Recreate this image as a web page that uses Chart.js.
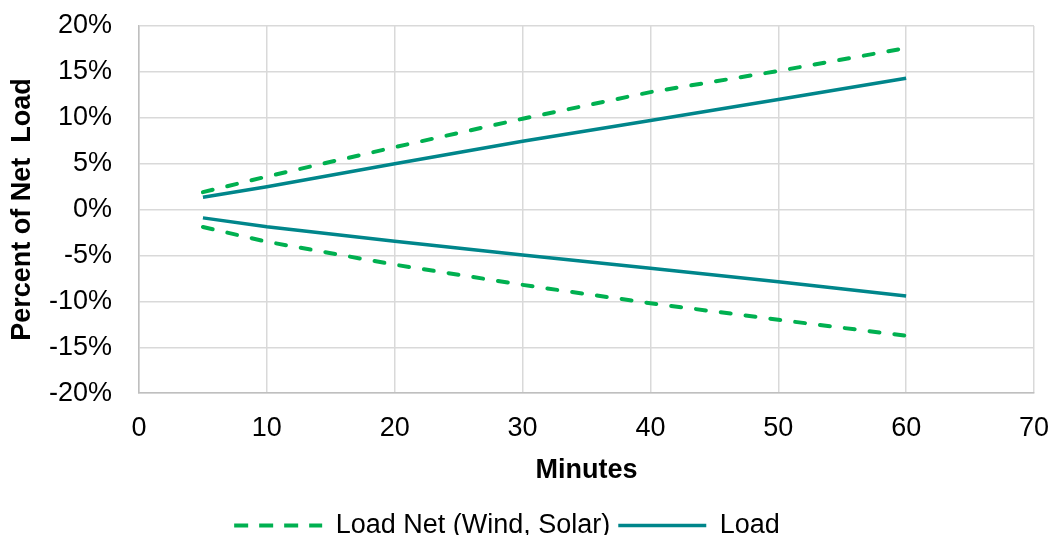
<!DOCTYPE html>
<html>
<head>
<meta charset="utf-8">
<script src="https://cdn.jsdelivr.net/npm/chart.js@4/dist/chart.umd.min.js"></script>
<style>
  html, body { margin: 0; padding: 0; background: #fff; }
</style>
</head>
<body>
<canvas id="grafico" width="1052" height="535"></canvas>
<script>
// minutos
const minutos = [5, 10, 20, 30, 40, 50, 60];

// faixas (em %) - limite superior e inferior
const loadNetSup = [1.9, 3.6, 6.8, 9.9, 12.8, 15.1, 17.6];
const loadNetInf = [-1.9, -3.5, -6.0, -8.2, -10.2, -12.0, -13.75];
const loadSup = [1.35, 2.5, 5.0, 7.45, 9.7, 12.0, 14.3];
const loadInf = [-0.9, -1.86, -3.46, -4.95, -6.4, -7.86, -9.4];

const nomesSeries = ['Load Net (Wind, Solar)', 'Load'];

const verde = '#00B050';
const teal = '#00868B';

const pontos = (vals) => vals.map((v, i) => ({ x: minutos[i], y: v }));

const fonte = { family: 'Liberation Sans, Arial, sans-serif', size: 27 };
const fonteNegrito = { family: 'Liberation Sans, Arial, sans-serif', size: 27, weight: 'bold' };

const tracejado = {
  borderColor: verde,
  borderWidth: 4,
  borderDash: [10, 15],
  borderCapStyle: 'round',
  pointRadius: 0,
  tension: 0,
  fill: false,
};
const solido = {
  borderColor: teal,
  borderWidth: 3.5,
  pointRadius: 0,
  tension: 0,
  fill: false,
};

new Chart(document.getElementById('grafico'), {
  type: 'line',
  data: {
    datasets: [
      { label: nomesSeries[0], data: pontos(loadNetSup), ...tracejado },
      { label: nomesSeries[1], data: pontos(loadSup), ...solido },
      { label: nomesSeries[0] + ' inf', data: pontos(loadNetInf), ...tracejado },
      { label: nomesSeries[1] + ' inf', data: pontos(loadInf), ...solido },
    ],
  },
  options: {
    responsive: false,
    animation: false,
    // margem esquerda negativa so p/ centralizar a legenda como no original
    layout: { padding: { left: -20, right: 18, top: 26, bottom: -14 } },
    plugins: {
      tooltip: { enabled: false },
      legend: {
        position: 'bottom',
        labels: {
          // so as duas primeiras series aparecem na legenda
          filter: (item) => item.datasetIndex < 2,
          generateLabels: (chart) => {
            const itens = Chart.defaults.plugins.legend.labels.generateLabels(chart);
            itens.forEach((item) => {
              const ds = chart.data.datasets[item.datasetIndex];
              item.lineDash = ds.borderDash ? [14, 11] : [];
              item.lineWidth = ds.borderWidth;
              item.lineCap = 'butt';
            });
            return itens;
          },
          usePointStyle: true,
          pointStyle: 'line',
          pointStyleWidth: 88,
          padding: 8,
          color: '#000',
          font: fonte,
        },
      },
    },
    scales: {
      x: {
        type: 'linear',
        min: 0,
        max: 70,
        afterFit: (escala) => { escala.paddingLeft = 0; escala.paddingRight = 0; },
        ticks: { stepSize: 10, padding: 19, color: '#000', font: fonte, maxRotation: 0 },
        grid: { color: '#d9d9d9', lineWidth: 1.5, drawTicks: false },
        border: { color: '#bfbfbf', width: 1.5 },
        title: { display: true, text: 'Minutes', color: '#000', font: fonteNegrito, padding: { top: -9, bottom: 17 } },
      },
      y: {
        min: -20,
        max: 20,
        afterFit: (escala) => { escala.width = 159; escala.paddingTop = 0; escala.paddingBottom = 0; },
        ticks: { stepSize: 5, padding: 27, color: '#000', font: fonte, callback: (v) => v + '%' },
        grid: { color: '#d9d9d9', lineWidth: 1.5, drawTicks: false },
        border: { color: '#bfbfbf', width: 1.5 },
        title: { display: true, text: 'Percent of Net  Load', color: '#000', font: fonteNegrito, padding: { top: 26, bottom: 0 } },
      },
    },
  },
});
</script>
</body>
</html>
